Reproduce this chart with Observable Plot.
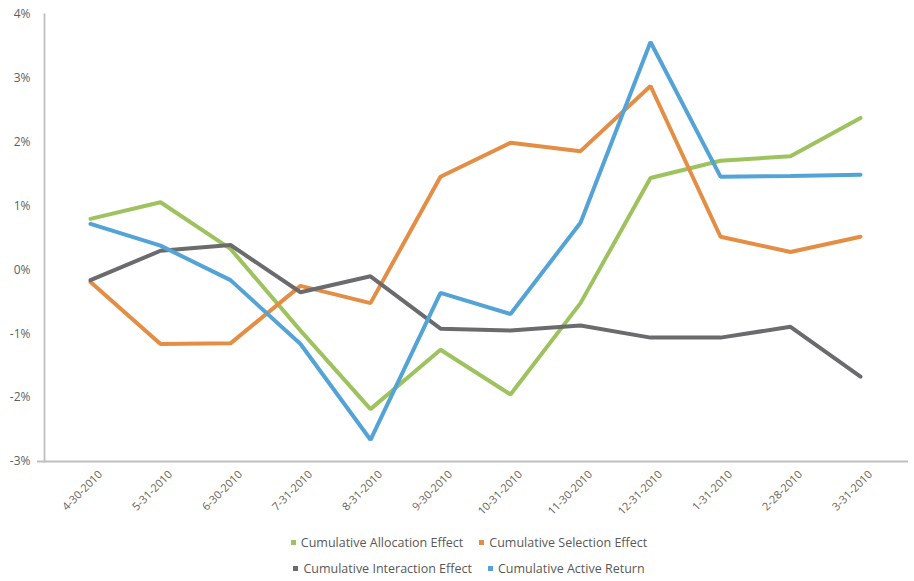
<!DOCTYPE html>
<html>
<head>
<meta charset="utf-8">
<script src="https://cdn.jsdelivr.net/npm/d3@7"></script>
<script src="https://cdn.jsdelivr.net/npm/@observablehq/plot@0.6"></script>
<style>
  body { margin: 0; background: #fff; font-family: "Open Sans", sans-serif; }
  #chart { width: 914px; }
  .legend { width: 914px; font-size: 12.5px; color: #595959; padding-top: 4px; }
  .row { display: flex; justify-content: center; padding-left: 24px; height: 26px; align-items: center; }
  .item { display: flex; align-items: center; margin: 0 8px; }
  .sw { width: 5px; height: 5px; margin-right: 5px; }
</style>
</head>
<body>
<div id="chart"></div>
<div class="legend" id="legend"></div>
<script>
const dates = ["4-30-2010","5-31-2010","6-30-2010","7-31-2010","8-31-2010","9-30-2010","10-31-2010","11-30-2010","12-31-2010","1-31-2011","2-28-2011","3-31-2011"];
const dateLabels = ["4-30-2010","5-31-2010","6-30-2010","7-31-2010","8-31-2010","9-30-2010","10-31-2010","11-30-2010","12-31-2010","1-31-2010","2-28-2010","3-31-2010"];
const seriesNames = ["Cumulative Allocation Effect","Cumulative Selection Effect","Cumulative Interaction Effect","Cumulative Active Return"];
const colors = ["#9dc25e","#e38d45","#6b6b6e","#54a3d7"];
const allocation = [0.80, 1.06, 0.33, -0.95, -2.18, -1.25, -1.95, -0.52, 1.44, 1.71, 1.78, 2.38];
const selection  = [-0.19, -1.16, -1.15, -0.25, -0.52, 1.46, 1.99, 1.86, 2.88, 0.52, 0.28, 0.52];
const interaction= [-0.16, 0.30, 0.39, -0.35, -0.10, -0.92, -0.95, -0.87, -1.06, -1.06, -0.89, -1.67];
const active     = [0.72, 0.38, -0.16, -1.16, -2.66, -0.36, -0.69, 0.74, 3.57, 1.46, 1.47, 1.49];
const yTicks = [-3, -2, -1, 0, 1, 2, 3, 4];

const seriesValues = [allocation, selection, interaction, active];
const data = [];
seriesNames.forEach((s, i) => dates.forEach((d, j) => data.push({series: s, date: d, value: seriesValues[i][j]})));
const labelOf = new Map(dates.map((d, i) => [d, dateLabels[i]]));

const plot = Plot.plot({
  width: 914,
  height: 525,
  marginTop: 14,
  marginBottom: 64,
  marginLeft: 44,
  marginRight: 6,
  style: {fontFamily: "Open Sans, sans-serif", color: "#595959", background: "#fff"},
  x: {type: "point", domain: dates, range: [85, 864], padding: 0, label: null},
  y: {domain: [-3, 4], label: null},
  color: {domain: seriesNames, range: colors},
  marks: [
    Plot.ruleY([-3], {stroke: "#bfbfbf", strokeWidth: 1.8, insetLeft: -7}),
    Plot.frame({anchor: "left", stroke: "#bfbfbf", strokeWidth: 1.8}),
    Plot.axisY({ticks: yTicks, tickSize: 0, tickPadding: 14, tickFormat: d => d + "%", fontSize: 12, fill: "#5f5f5f", label: null}),
    Plot.axisX({tickSize: 0, tickRotate: -45, tickPadding: 4, tickFormat: d => labelOf.get(d), fontSize: 11, fill: "#5f5f5f", dx: 10, dy: 7, label: null}),
    Plot.line(data, {x: "date", y: "value", z: "series", stroke: "series", strokeWidth: 4, strokeLinejoin: "miter", strokeLinecap: "round"})
  ]
});
document.getElementById("chart").appendChild(plot);

const legend = document.getElementById("legend");
[[0, 1], [2, 3]].forEach(idx => {
  const row = document.createElement("div");
  row.className = "row";
  idx.forEach(i => {
    const it = document.createElement("div");
    it.className = "item";
    it.innerHTML = `<span class="sw" style="background:${colors[i]}"></span><span>${seriesNames[i]}</span>`;
    row.appendChild(it);
  });
  legend.appendChild(row);
});
</script>
</body>
</html>
